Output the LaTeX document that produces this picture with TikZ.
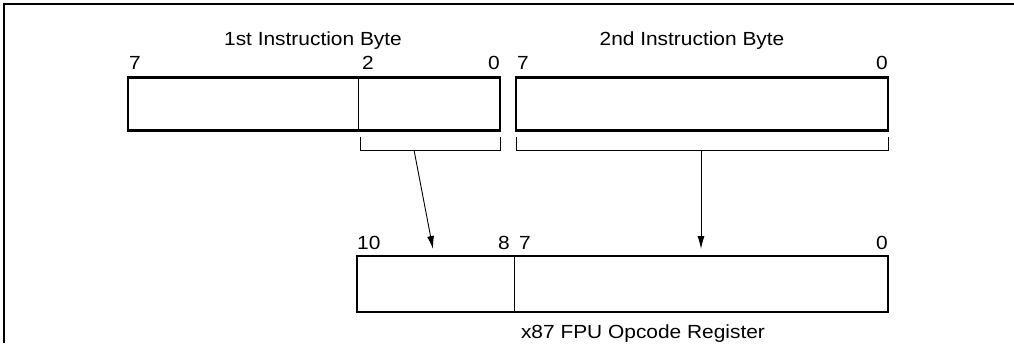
\documentclass[tikz,border=0pt]{standalone}
\usepackage{fontspec}
\setmainfont{Liberation Sans}[FakeStretch=1.1]
\usetikzlibrary{arrows.meta}

\tikzset{
  regbox/.style={draw,line width=2.2pt,minimum height=53pt,inner sep=0pt},
  lbl/.style={inner sep=0pt,font=\fontsize{19}{22}\selectfont},
  thin/.style={line width=0.9pt},
}

\begin{document}
\begin{tikzpicture}[x=1pt,y=-1pt,>={Latex[length=13pt,width=7pt]}]
  \useasboundingbox (0,0) rectangle (1014,343);
  % frame (only top and left edges show)
  \draw[line width=2pt] (4,343) -- (4,4) -- (1014,4);

  % instruction bytes
  \node[regbox,minimum width=372pt] (byteA) at (314,104) {};
  \node[regbox,minimum width=372pt] (byteB) at (702,104) {};
  \draw[thin] (358,0 |- byteA.north) -- (358,0 |- byteA.south);

  \node[lbl,anchor=base] (titleA) at (313,45) {1st Instruction Byte};
  \node[lbl,anchor=base] (titleB) at (692,45) {2nd Instruction Byte};
  \node[lbl,anchor=base west] (a7) at (129,69) {7};
  \node[lbl,anchor=base west] (a2) at (362,69) {2};
  \node[lbl,anchor=base east] (a0) at (500,69) {0};
  \node[lbl,anchor=base west] (b7) at (517,69) {7};
  \node[lbl,anchor=base east] (b0) at (888,69) {0};

  % brackets under the used bits
  \draw[thin] (360,137) -- (360,150) -- (500,150) -- (500,137);
  \draw[thin] (516,137) -- (516,150) -- (888,150) -- (888,137);
  \coordinate (stemA) at (414,150);
  \coordinate (stemB) at (701,150);

  % opcode register
  \node[regbox,minimum width=531pt,minimum height=56pt] (opreg) at (622.5,284) {};
  \draw[thin] (514,0 |- opreg.north) -- (514,0 |- opreg.south);
  \node[lbl,anchor=base west] (r10) at (357,249) {10};
  \node[lbl,anchor=base east] (r8) at (510,249) {8};
  \node[lbl,anchor=base west] (r7) at (519,249) {7};
  \node[lbl,anchor=base east] (r0) at (888,249) {0};
  \node[lbl,anchor=base] (caption) at (643,338) {x87 FPU Opcode Register};

  \coordinate (tipA) at (433,249);
  \coordinate (tipB) at (701,249);
  \draw[thin,->] (stemA) -- (tipA);
  \draw[thin,->] (stemB) -- (tipB);
\end{tikzpicture}
\end{document}
